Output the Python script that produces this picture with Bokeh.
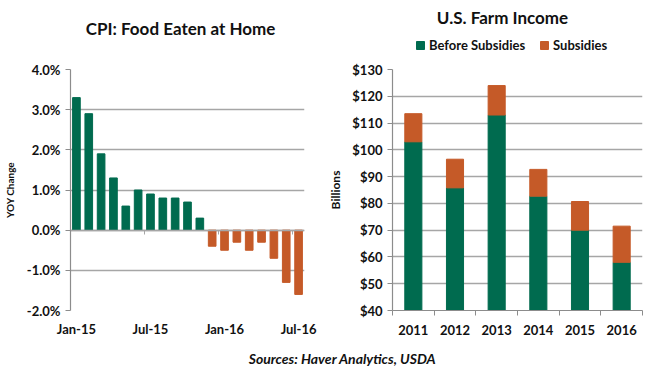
from bokeh.plotting import figure
from bokeh.models import (FixedTicker, PrintfTickFormatter, LinearAxis, Label, Legend, LegendItem, Range1d, ColumnDataSource)
from bokeh.layouts import column, row
from bokeh.embed import file_html
from bokeh.resources import INLINE

# ---- data ----
months = ["Jan-15", "Feb-15", "Mar-15", "Apr-15", "May-15", "Jun-15", "Jul-15", "Aug-15", "Sep-15",
          "Oct-15", "Nov-15", "Dec-15", "Jan-16", "Feb-16", "Mar-16", "Apr-16", "May-16", "Jun-16", "Jul-16"]
cpi_yoy = [3.3, 2.9, 1.9, 1.3, 0.6, 1.0, 0.9, 0.8, 0.8, 0.7, 0.3,
           -0.4, -0.5, -0.3, -0.5, -0.3, -0.7, -1.3, -1.6]
month_tick_labels = ["Jan-15", "Jul-15", "Jan-16", "Jul-16"]
cpi_ticks = [-2, -1, 0, 1, 2, 3, 4]

years = ["2011", "2012", "2013", "2014", "2015", "2016"]
before_subsidies = [103.0, 85.8, 113.0, 82.7, 70.0, 58.0]
subsidies = [10.5, 10.7, 11.0, 10.0, 10.7, 13.5]
income_ticks = [40, 50, 60, 70, 80, 90, 100, 110, 120, 130]

GREEN = "#006B4F"
ORANGE = "#C55A28"
GRID = "#A6A6A6"
AXIS = "#8C8C8C"
FONT = "Lato"
TXT = "#111111"

TOP = 60

def style(p):
    p.outline_line_color = None
    p.background_fill_color = "white"
    p.border_fill_color = "white"
    p.xgrid.grid_line_color = None
    p.ygrid.grid_line_color = GRID
    p.ygrid.grid_line_width = 1.5
    for ax in p.axis:
        ax.major_label_text_font = FONT
        ax.major_label_text_font_style = "bold"
        ax.major_label_text_font_size = "13px"
        ax.major_label_text_color = TXT
        ax.axis_label_text_font = FONT
        ax.axis_label_text_font_style = "bold"
        ax.axis_label_text_color = TXT
        ax.axis_line_color = AXIS
        ax.axis_line_width = 1.2
        ax.major_tick_line_color = AXIS
        ax.minor_tick_line_color = AXIS
        ax.major_tick_in = 0
        ax.minor_tick_in = 0

# ---- top strip: titles + legend ----
p0 = figure(width=650, height=TOP, output_backend="svg", toolbar_location=None,
            x_range=Range1d(0, 650), y_range=Range1d(0, TOP), min_border=0)
p0.axis.visible = False
p0.grid.visible = False
p0.outline_line_color = None
p0.add_layout(Label(x=180, y=TOP - 28, text="CPI: Food Eaten at Home",
                    text_font=FONT, text_font_style="bold", text_font_size="17px", text_color=TXT,
                    text_align="center", text_baseline="middle"))
p0.add_layout(Label(x=502, y=TOP - 17, text="U.S. Farm Income",
                    text_font=FONT, text_font_style="bold", text_font_size="17px", text_color=TXT,
                    text_align="center", text_baseline="middle"))
# legend-only glyphs, placed outside the visible range
hidden = ColumnDataSource(dict(x=[-1000], top=[-1000]))
g1 = p0.vbar(x="x", top="top", width=1, color=GREEN, source=hidden)
g2 = p0.vbar(x="x", top="top", width=1, color=ORANGE, source=hidden)
legend = Legend(items=[LegendItem(label="Before Subsidies", renderers=[g1]),
                       LegendItem(label="Subsidies", renderers=[g2])],
                orientation="horizontal", location=(415, 7),
                label_text_font=FONT, label_text_font_style="bold", label_text_font_size="13px",
                label_text_color=TXT, glyph_width=10, glyph_height=10, spacing=14,
                padding=0, margin=0, border_line_color=None, background_fill_alpha=0,
                label_standoff=4)
p0.add_layout(legend)

# ---- left chart ----
x_idx = list(range(len(months)))
colors = [GREEN if v >= 0 else ORANGE for v in cpi_yoy]
src1 = ColumnDataSource(dict(x=x_idx, top=cpi_yoy, color=colors))

p1 = figure(width=325, height=350 - TOP, output_backend="svg", toolbar_location=None,
            x_range=Range1d(-0.48, len(months) - 1 + 0.48), y_range=Range1d(-2, 4),
            min_border_left=67, min_border_right=21, min_border_top=69 - TOP, min_border_bottom=40)
p1.vbar(x="x", top="top", bottom=0, width=0.62, color="color", source=src1)
style(p1)
p1.yaxis.ticker = FixedTicker(ticks=cpi_ticks)
p1.yaxis.formatter = PrintfTickFormatter(format="%.1f%%")
p1.yaxis.major_tick_out = 5
p1.yaxis.axis_label = "YOY Change"
p1.yaxis.axis_label_text_font_size = "10px"
p1.yaxis.axis_label_standoff = 8
lab_idx = [months.index(m) for m in month_tick_labels]
p1.xaxis.ticker = FixedTicker(ticks=lab_idx)
p1.xaxis.major_label_overrides = {i: months[i] for i in lab_idx}
p1.xaxis.axis_line_color = None
p1.xaxis.major_tick_line_color = None
p1.xaxis.major_label_standoff = 4
zero_ax = LinearAxis(fixed_location=0, ticker=FixedTicker(ticks=[], minor_ticks=[5.5, 11.5, 17.5]),
                     axis_line_color=GRID, axis_line_width=1.5, minor_tick_line_color=GRID,
                     minor_tick_out=4, minor_tick_in=0, major_label_text_font_size="0px")
p1.add_layout(zero_ax, "below")

# ---- right chart ----
xc = [i + 0.5 for i in range(len(years))]
src2 = ColumnDataSource(dict(x=xc, before=before_subsidies, subs=subsidies))
p2 = figure(width=325, height=350 - TOP, output_backend="svg", toolbar_location=None,
            x_range=Range1d(0, len(years)), y_range=Range1d(40, 130),
            min_border_left=67, min_border_right=8, min_border_top=69 - TOP, min_border_bottom=38)
rs = p2.vbar_stack(["before", "subs"], x="x", width=0.41, color=[GREEN, ORANGE], source=src2)
style(p2)
p2.yaxis.ticker = FixedTicker(ticks=income_ticks)
p2.yaxis.formatter = PrintfTickFormatter(format="$%d")
p2.yaxis.major_tick_out = 5
p2.yaxis.axis_label = "Billions"
p2.yaxis.axis_label_text_font_size = "12px"
p2.yaxis.axis_label_standoff = 6
p2.xaxis.ticker = FixedTicker(ticks=xc, minor_ticks=list(range(len(years) + 1)))
p2.xaxis.major_label_overrides = {x: y for x, y in zip(xc, years)}
p2.xaxis.major_tick_out = 0
p2.xaxis.minor_tick_out = 5
p2.xaxis.major_label_standoff = 9

# ---- sources strip ----
p3 = figure(width=650, height=26, output_backend="svg", toolbar_location=None,
            x_range=Range1d(0, 650), y_range=Range1d(0, 26), min_border=0)
p3.axis.visible = False
p3.grid.visible = False
p3.outline_line_color = None
p3.add_layout(Label(x=342, y=18, text="Sources: Haver Analytics, USDA", text_font=FONT,
                    text_font_style="bold italic", text_font_size="14px", text_color=TXT,
                    text_align="center", text_baseline="middle"))

layout = column(p0, row(p1, p2), p3)
open("out.html", "w").write(file_html(layout, INLINE))
